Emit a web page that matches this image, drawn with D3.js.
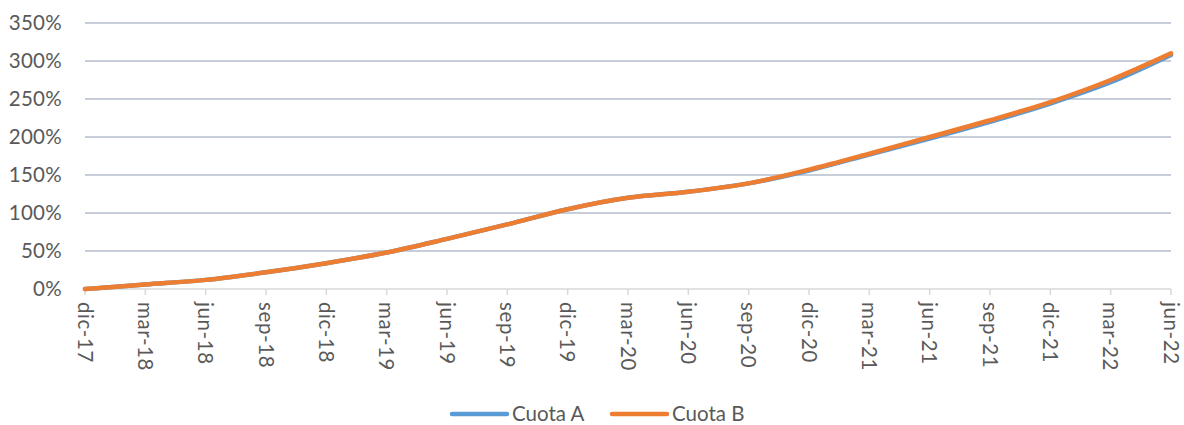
<!DOCTYPE html>
<html><head><meta charset="utf-8">
<script src="https://cdn.jsdelivr.net/npm/d3@7"></script>
<style>body{margin:0;background:#fff}svg{display:block}text{font-family:Lato,"Noto Sans",sans-serif;fill:#595959}</style>
</head><body><svg id="c" width="1184" height="425"></svg>
<script>
const categories = ["dic-17","mar-18","jun-18","sep-18","dic-18","mar-19","jun-19","sep-19","dic-19","mar-20","jun-20","sep-20","dic-20","mar-21","jun-21","sep-21","dic-21","mar-22","jun-22"];
const cuotaA = [0, 6, 12, 22, 34, 48, 66, 85, 105, 120, 128, 139, 156, 177, 198, 220, 244, 272, 308];
const cuotaB = [0, 6, 12, 22, 34, 48, 66, 85, 105, 120, 128, 139, 157, 178, 200, 222, 246, 275, 310];
const yTicks = [0, 50, 100, 150, 200, 250, 300, 350];
const seriesNames = ["Cuota A", "Cuota B"];
const colors = ["#5b9bd5", "#ed7d31"];

const svg = d3.select("#c");
const x = d3.scaleLinear().domain([0, categories.length - 1]).range([85, 1171]);
const y = d3.scaleLinear().domain([0, 350]).range([289, 23]);
const fs = "20.5px";

// gridlines
svg.append("g").selectAll("line").data(yTicks.filter(d => d > 0)).join("line")
  .attr("x1", 85).attr("x2", 1171).attr("y1", d => y(d)).attr("y2", d => y(d))
  .attr("stroke", "#b4bccc").attr("stroke-width", 1.5);

// y labels
svg.append("g").selectAll("text").data(yTicks).join("text")
  .attr("x", 62).attr("y", d => y(d)).attr("dy", "0.36em").attr("text-anchor", "end")
  .style("font-size", fs).style("letter-spacing", "0.3px").text(d => d + "%");

// x axis
const xa = svg.append("g");
xa.append("line").attr("x1", 85).attr("x2", 1171).attr("y1", y(0)).attr("y2", y(0))
  .attr("stroke", "#d9d9d9").attr("stroke-width", 1.5);
xa.selectAll("line.t").data(categories).join("line").attr("class", "t")
  .attr("x1", (d, i) => x(i)).attr("x2", (d, i) => x(i)).attr("y1", y(0)).attr("y2", y(0) + 6)
  .attr("stroke", "#d9d9d9").attr("stroke-width", 1.5);
xa.selectAll("text").data(categories).join("text")
  .attr("transform", (d, i) => `translate(${x(i)},${y(0) + 13}) rotate(90)`)
  .attr("dy", "0.36em").style("font-size", fs).style("letter-spacing", "0.6px").text(d => d);

// lines
const line = d3.line().x((d, i) => x(i)).y(d => y(d)).curve(d3.curveMonotoneX);
[cuotaA, cuotaB].forEach((s, k) => {
  svg.append("path").datum(s).attr("d", line).attr("fill", "none")
    .attr("stroke", colors[k]).attr("stroke-width", 4.5).attr("stroke-linecap", "round");
});

// legend
const lg = svg.append("g");
const lx = [452, 612];
seriesNames.forEach((n, k) => {
  lg.append("line").attr("x1", lx[k]).attr("x2", lx[k] + 55).attr("y1", 414).attr("y2", 414)
    .attr("stroke", colors[k]).attr("stroke-width", 4.5).attr("stroke-linecap", "round");
  lg.append("text").attr("x", lx[k] + 60).attr("y", 414).attr("dy", "0.36em")
    .style("font-size", fs).text(n);
});
</script></body></html>
